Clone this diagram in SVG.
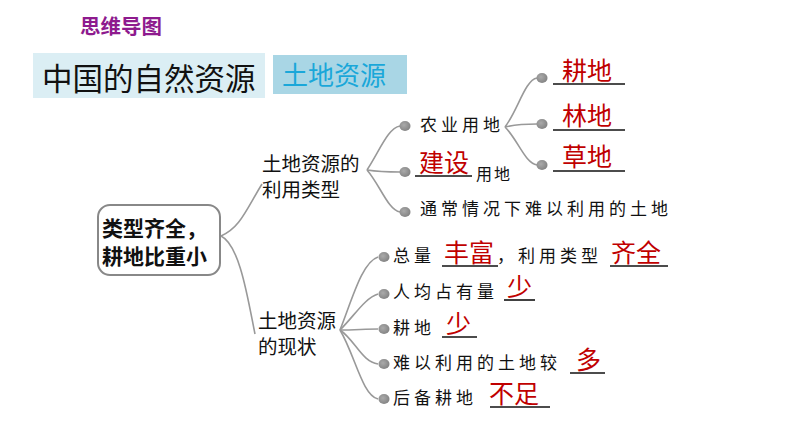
<svg xmlns="http://www.w3.org/2000/svg" width="794" height="447" viewBox="0 0 794 447">
<defs>
<radialGradient id="dg" cx="0.4" cy="0.4" r="0.6">
<stop offset="0" stop-color="#aaa"/>
<stop offset="1" stop-color="#858585"/>
</radialGradient>
</defs>
<style>
text{font-family:"Noto Sans CJK SC","Noto Sans",sans-serif;}
.t{font-size:17px;fill:#111;letter-spacing:4px;}
.n{font-size:19.5px;fill:#111;}
.r{font-size:25px;fill:#c00000;}
.u{stroke:#111;stroke-width:1.6;}
.c{fill:none;stroke:#999;stroke-width:1.6;}
.d{fill:url(#dg);}
</style>
<rect width="794" height="447" fill="#fff"/>
<g id="header">
<text x="80" y="34" font-size="20.5" font-weight="bold" fill="#8e1a8e">思维导图</text>
<rect x="33" y="53" width="232" height="45" fill="#dbeef4"/>
<text x="42" y="90" font-size="30.5" fill="#111">中国的自然资源</text>
<rect x="273" y="55" width="134" height="39" fill="#a9d6e5"/>
<text x="282" y="85" font-size="26" fill="#1aa7d9">土地资源</text>
</g>
<g id="connectors">
<path class="c" d="M221,236 C240,228 246,210 262,184"/>
<path class="c" d="M221,236 C240,245 248,300 255,334"/>
<path class="c" d="M367,170 C380,150 388,128 400,126"/>
<path class="c" d="M367,170 C380,172 390,172 400,172"/>
<path class="c" d="M367,170 C380,185 388,210 400,212"/>
<path class="c" d="M505,127 C518,110 525,80 537,78"/>
<path class="c" d="M505,127 C518,124 528,124 537,124"/>
<path class="c" d="M505,127 C518,140 525,163 537,165"/>
<path class="c" d="M340,330 C352,300 362,262 378,257"/>
<path class="c" d="M340,330 C355,315 365,298 378,294"/>
<path class="c" d="M340,330 C355,330 365,329 378,329"/>
<path class="c" d="M340,330 C355,340 362,362 378,364"/>
<path class="c" d="M340,330 C355,355 362,395 378,399"/>
</g>
<g id="root">
<rect x="98" y="205" width="122" height="70" rx="12" fill="#fff" stroke="#888" stroke-width="2"/>
<text x="102" y="236" font-size="21" font-weight="bold" fill="#111">类型齐全，</text>
<text x="102" y="264" font-size="21" font-weight="bold" fill="#111">耕地比重小</text>
</g>
<g id="usage">
<text class="n" x="262" y="171">土地资源的</text>
<text class="n" x="262" y="197">利用类型</text>
</g>
<g id="status">
<text class="n" x="258" y="328">土地资源</text>
<text class="n" x="258" y="354">的现状</text>
</g>
<g id="agri">
<ellipse class="d" cx="405" cy="126" rx="5.5" ry="5"/>
<text class="t" x="420" y="131">农业用地</text>
</g>
<g id="arable">
<ellipse class="d" cx="542" cy="78" rx="5.5" ry="5"/>
<text class="r" x="562" y="80">耕地</text>
<line class="u" x1="553" y1="84" x2="625" y2="84"/>
</g>
<g id="forest">
<ellipse class="d" cx="542" cy="124" rx="5.5" ry="5"/>
<text class="r" x="562" y="125">林地</text>
<line class="u" x1="553" y1="130" x2="625" y2="130"/>
</g>
<g id="grass">
<ellipse class="d" cx="542" cy="165" rx="5.5" ry="5"/>
<text class="r" x="562" y="166">草地</text>
<line class="u" x1="553" y1="171" x2="625" y2="171"/>
</g>
<g id="build">
<ellipse class="d" cx="405" cy="172" rx="5.5" ry="5"/>
<text class="r" x="419" y="172">建设</text>
<line class="u" x1="415" y1="176" x2="472" y2="176"/>
<text class="t" x="476" y="180" style="font-size:16px;letter-spacing:2px">用地</text>
</g>
<g id="hard">
<ellipse class="d" cx="405" cy="212" rx="5.5" ry="5"/>
<text class="t" x="420" y="215">通常情况下难以利用的土地</text>
</g>
<g id="s1">
<ellipse class="d" cx="384" cy="257" rx="5.5" ry="5"/>
<text class="t" x="393" y="262">总量</text>
<text class="r" x="444" y="262">丰富</text>
<line class="u" x1="442" y1="266" x2="498" y2="266"/>
<text class="t" x="497" y="262">，利用类型</text>
<text class="r" x="611" y="262">齐全</text>
<line class="u" x1="610" y1="266" x2="668" y2="266"/>
</g>
<g id="s2">
<ellipse class="d" cx="384" cy="294" rx="5.5" ry="5"/>
<text class="t" x="393" y="298">人均占有量</text>
<text class="r" x="507" y="296">少</text>
<line class="u" x1="504" y1="300" x2="535" y2="300"/>
</g>
<g id="s3">
<ellipse class="d" cx="384" cy="329" rx="5.5" ry="5"/>
<text class="t" x="393" y="334">耕地</text>
<text class="r" x="446" y="333">少</text>
<line class="u" x1="442" y1="337" x2="477" y2="337"/>
</g>
<g id="s4">
<ellipse class="d" cx="384" cy="364" rx="5.5" ry="5"/>
<text class="t" x="393" y="369">难以利用的土地较</text>
<text class="r" x="576" y="369">多</text>
<line class="u" x1="570" y1="373" x2="605" y2="373"/>
</g>
<g id="s5">
<ellipse class="d" cx="384" cy="399" rx="5.5" ry="5"/>
<text class="t" x="393" y="404">后备耕地</text>
<text class="r" x="489" y="403">不足</text>
<line class="u" x1="490" y1="407" x2="550" y2="407"/>
</g>
</svg>
